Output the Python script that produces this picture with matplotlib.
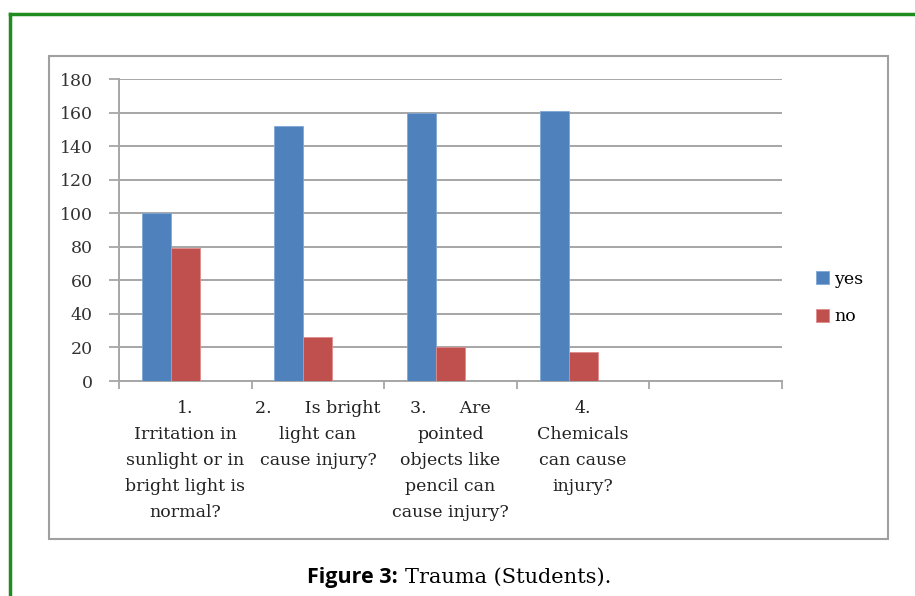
import numpy as np
import matplotlib.pyplot as plt
from matplotlib.patches import Rectangle
from matplotlib.lines import Line2D

# survey answers per question
categories = [
    "1.\nIrritation in\nsunlight or in\nbright light is\nnormal?",
    "2.      Is bright\nlight can\ncause injury?",
    "3.      Are\npointed\nobjects like\npencil can\ncause injury?",
    "4.\nChemicals\ncan cause\ninjury?",
    "",
]
yes_vals = [100, 152, 160, 161]
no_vals = [79, 26, 20, 17]
series_names = ["yes", "no"]
yticks = [0, 20, 40, 60, 80, 100, 120, 140, 160, 180]

blue = "#4F81BD"
red = "#C0504D"
grid_c = "#A6A6A6"
W, H = 915, 596

fig = plt.figure(figsize=(W / 100, H / 100), dpi=100)
ax = fig.add_axes([119 / W, 1 - 381 / H, (782 - 119) / W, (381 - 79) / H])

# each slot holds three bar widths (third series left blank), gap ~157%
bw = 0.219
x = np.arange(len(yes_vals))
ax.bar(x - bw / 2, yes_vals, bw, color=blue, edgecolor="#7EA6D8", linewidth=0.6, label=series_names[0], zorder=3)
ax.bar(x + bw / 2, no_vals, bw, color=red, edgecolor="#E08C8A", linewidth=0.6, label=series_names[1], zorder=3)

ax.set_xlim(-0.5 + bw / 2, len(categories) - 0.5 + bw / 2)
ax.set_ylim(0, 180)
ax.set_yticks(yticks)
ax.yaxis.grid(True, color=grid_c, linewidth=1.4, zorder=0)
ax.set_axisbelow(True)

slot_c = np.arange(len(categories)) + bw / 2
ax.set_xticks(slot_c)
ax.set_xticklabels(categories, fontfamily="DejaVu Serif", fontsize=12.5, linespacing=1.68, va="top")
ax.set_xticks(np.arange(len(categories) + 1) - 0.5 + bw / 2, minor=True)
ax.tick_params(axis="x", which="major", length=0, pad=14)
ax.tick_params(axis="x", which="minor", length=6, width=1.3, color=grid_c, direction="out")
ax.tick_params(axis="y", length=7, width=1.3, color=grid_c, pad=12, labelsize=12.5)
for t in ax.get_yticklabels():
    t.set_fontfamily("DejaVu Serif")
    t.set_color("#333333")
for t in ax.get_xticklabels():
    t.set_color("#222222")

for s in ["top", "right"]:
    ax.spines[s].set_visible(False)
for s in ["left", "bottom"]:
    ax.spines[s].set_color(grid_c)
    ax.spines[s].set_linewidth(1.4)

leg = ax.legend(loc="center left", bbox_to_anchor=(816 / W, 1 - 298 / H), bbox_transform=fig.transFigure,
                frameon=False, borderpad=0, borderaxespad=0, handlelength=0.75, handleheight=0.75,
                handletextpad=0.3, labelspacing=1.2, prop={"family": "DejaVu Serif", "size": 12.5})

# chart box and green page frame
fig.patches.append(Rectangle((48.5 / W, 1 - 539 / H), (888 - 48.5) / W, (539 - 56) / H,
                             transform=fig.transFigure, fill=False, edgecolor="#A0A0A0", linewidth=1.5))
fig.lines.append(Line2D([10 / W, 1], [1 - 13.5 / H] * 2, transform=fig.transFigure, color="#1E8C1E", linewidth=2.5))
fig.lines.append(Line2D([10 / W] * 2, [0, 1 - 13.5 / H], transform=fig.transFigure, color="#1E8C1E", linewidth=2.5))

fig.text(398 / W, 1 - 577 / H, "Figure 3:", ha="right", va="center", fontfamily="Open Sans",
         fontweight="bold", fontsize=15.5)
fig.text(405 / W, 1 - 577 / H, "Trauma (Students).", ha="left", va="center", fontfamily="DejaVu Serif",
         fontsize=15)

fig.savefig("out.png", dpi=100)
